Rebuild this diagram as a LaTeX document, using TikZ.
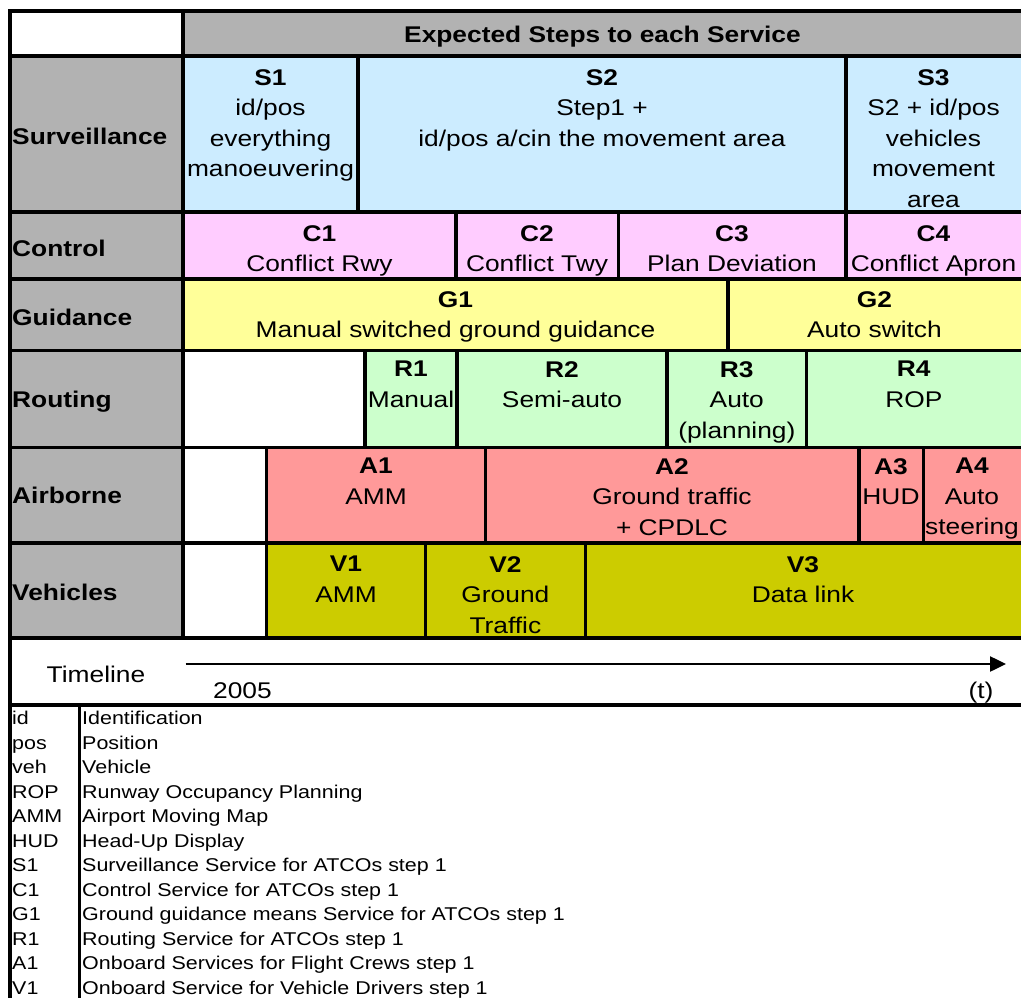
\documentclass[tikz,border=0pt]{standalone}
\usepackage{fontspec}
\setmainfont{Liberation Sans}[FakeStretch=1.16]
\usetikzlibrary{arrows.meta}
\definecolor{hdrgray}{RGB}{178,178,178}
\definecolor{survblue}{RGB}{204,236,255}
\definecolor{ctrlpink}{RGB}{255,204,255}
\definecolor{guidyellow}{RGB}{255,255,153}
\definecolor{routgreen}{RGB}{204,255,204}
\definecolor{airsalmon}{RGB}{255,153,153}
\definecolor{vehol}{RGB}{204,204,0}
\newcommand{\mycell}[5]{\filldraw[fill=#5,draw=black,line width=3.5pt] (#1,#2) rectangle (#3,#4);}
\begin{document}
\begin{tikzpicture}[x=1pt,y=-1pt,
  ct/.style={anchor=base,align=center,inner sep=0pt,font=\fontsize{22.7}{30}\selectfont},
  cellt/.style={anchor=north,align=center,inner sep=0pt,font=\fontsize{22.7}{30.5}\selectfont,
    execute at begin node={\rule{0pt}{20pt}}},
  rowlab/.style={anchor=base west,inner sep=0pt,font=\fontsize{22.7}{30}\selectfont\bfseries},
  leg/.style={anchor=base west,inner sep=0pt,font=\fontsize{18.5}{24.5}\selectfont},
  tl/.style={line width=2.5pt,-{Triangle[length=16pt,width=15pt]}}]
\useasboundingbox (0,0) rectangle (1021,998);
\fill[white] (0,0) rectangle (1021,998);
% header
\mycell{10}{11}{183}{56}{white}
\mycell{183}{11}{1030}{56}{hdrgray}
% row labels
\mycell{10}{56}{183}{212}{hdrgray}
\mycell{10}{212}{183}{279}{hdrgray}
\mycell{10}{279}{183}{350.5}{hdrgray}
\mycell{10}{350.5}{183}{447.5}{hdrgray}
\mycell{10}{447.5}{183}{543}{hdrgray}
\mycell{10}{543}{183}{638}{hdrgray}
% surveillance
\mycell{183}{56}{358}{212}{survblue}
\mycell{358}{56}{846}{212}{survblue}
\mycell{846}{56}{1030}{212}{survblue}
% control
\mycell{183}{212}{456}{279}{ctrlpink}
\mycell{456}{212}{618.7}{279}{ctrlpink}
\mycell{618.7}{212}{846}{279}{ctrlpink}
\mycell{846}{212}{1030}{279}{ctrlpink}
% guidance
\mycell{183}{279}{728}{350.5}{guidyellow}
\mycell{728}{279}{1030}{350.5}{guidyellow}
% routing
\mycell{183}{350.5}{365}{447.5}{white}
\mycell{365}{350.5}{457}{447.5}{routgreen}
\mycell{457}{350.5}{667}{447.5}{routgreen}
\mycell{667}{350.5}{806.5}{447.5}{routgreen}
\mycell{806.5}{350.5}{1030}{447.5}{routgreen}
% airborne
\mycell{183}{447.5}{266.7}{543}{white}
\mycell{266.7}{447.5}{485.7}{543}{airsalmon}
\mycell{485.7}{447.5}{858.8}{543}{airsalmon}
\mycell{858.8}{447.5}{923.7}{543}{airsalmon}
\mycell{923.7}{447.5}{1030}{543}{airsalmon}
% vehicles
\mycell{183}{543}{266.7}{638}{white}
\mycell{266.7}{543}{425.5}{638}{vehol}
\mycell{425.5}{543}{585.3}{638}{vehol}
\mycell{585.3}{543}{1030}{638}{vehol}
% timeline area and legend
\mycell{10}{638}{1030}{705}{white}
\draw[line width=3.5pt] (10,705) -- (10,1005);
\draw[line width=3pt] (79,705) -- (79,1005);
% texts
\node[ct,font=\fontsize{22.7}{30}\selectfont\bfseries] (hdr) at (602.5,43) {Expected Steps to each Service};
\node[rowlab] (lsur) at (12,144) {Surveillance};
\node[rowlab] (lctl) at (12,256) {Control};
\node[rowlab] (lgui) at (12,325) {Guidance};
\node[rowlab] (lrou) at (12,407) {Routing};
\node[rowlab] (lair) at (12,503) {Airborne};
\node[rowlab] (lveh) at (12,600) {Vehicles};
\node[cellt] (s1) at (270.5,69) {\textbf{S1}\\id/pos\\everything\\manoeuvering};
\node[cellt] (s2) at (602,69) {\textbf{S2}\\Step1 +\\id/pos a/cin the movement area};
\node[cellt] (s3) at (933.5,69) {\textbf{S3}\\S2 + id/pos\\vehicles\\movement\\area};
\node[cellt] (c1) at (319.5,225) {\textbf{C1}\\Conflict Rwy};
\node[cellt] (c2) at (537,225) {\textbf{C2}\\Conflict Twy};
\node[cellt] (c3) at (732,225) {\textbf{C3}\\Plan Deviation};
\node[cellt] (c4) at (933.5,225) {\textbf{C4}\\Conflict Apron};
\node[cellt] (g1) at (455.5,291) {\textbf{G1}\\Manual switched ground guidance};
\node[cellt] (g2) at (874.5,291) {\textbf{G2}\\Auto switch};
\node[cellt] (r1) at (411,361) {\textbf{R1}\\Manual};
\node[cellt] (r2) at (562,361) {\textbf{R2}\\Semi-auto};
\node[cellt] (r3) at (736.8,361) {\textbf{R3}\\Auto\\(planning)};
\node[cellt] (r4) at (913.8,361) {\textbf{R4}\\ROP};
\node[cellt] (a1) at (376,458) {\textbf{A1}\\AMM};
\node[cellt] (a2) at (672,458) {\textbf{A2}\\Ground traffic\\+ CPDLC};
\node[cellt] (a3) at (891,458) {\textbf{A3}\\HUD};
\node[cellt] (a4) at (972,458) {\textbf{A4}\\Auto\\steering};
\node[cellt] (v1) at (346,556) {\textbf{V1}\\AMM};
\node[cellt] (v2) at (505.4,556) {\textbf{V2}\\Ground\\Traffic};
\node[cellt] (v3) at (803,556) {\textbf{V3}\\Data link};
% timeline
\node[ct] (tlab) at (96,682) {Timeline};
\node[rowlab,font=\fontsize{22.7}{30}\selectfont] (y2005) at (213,698) {2005};
\node[ct] (tt) at (981,698) {(t)};
\coordinate (tstart) at (185.7,664);
\coordinate (tend) at (1006,664);
\draw[tl] (tstart) -- (tend);
% legend
\foreach \ab/\df [count=\i from 0] in {id/Identification,pos/Position,veh/Vehicle,ROP/Runway Occupancy Planning,AMM/Airport Moving Map,HUD/Head-Up Display,S1/Surveillance Service for ATCOs step 1,C1/Control Service for ATCOs step 1,G1/Ground guidance means Service for ATCOs step 1,R1/Routing Service for ATCOs step 1,A1/Onboard Services for Flight Crews step 1,V1/Onboard Service for Vehicle Drivers step 1}{
  \node[leg] (ab\i) at (12,724.5+24.5*\i) {\ab};
  \node[leg] (df\i) at (82,724.5+24.5*\i) {\df};
}
\end{tikzpicture}
\end{document}
